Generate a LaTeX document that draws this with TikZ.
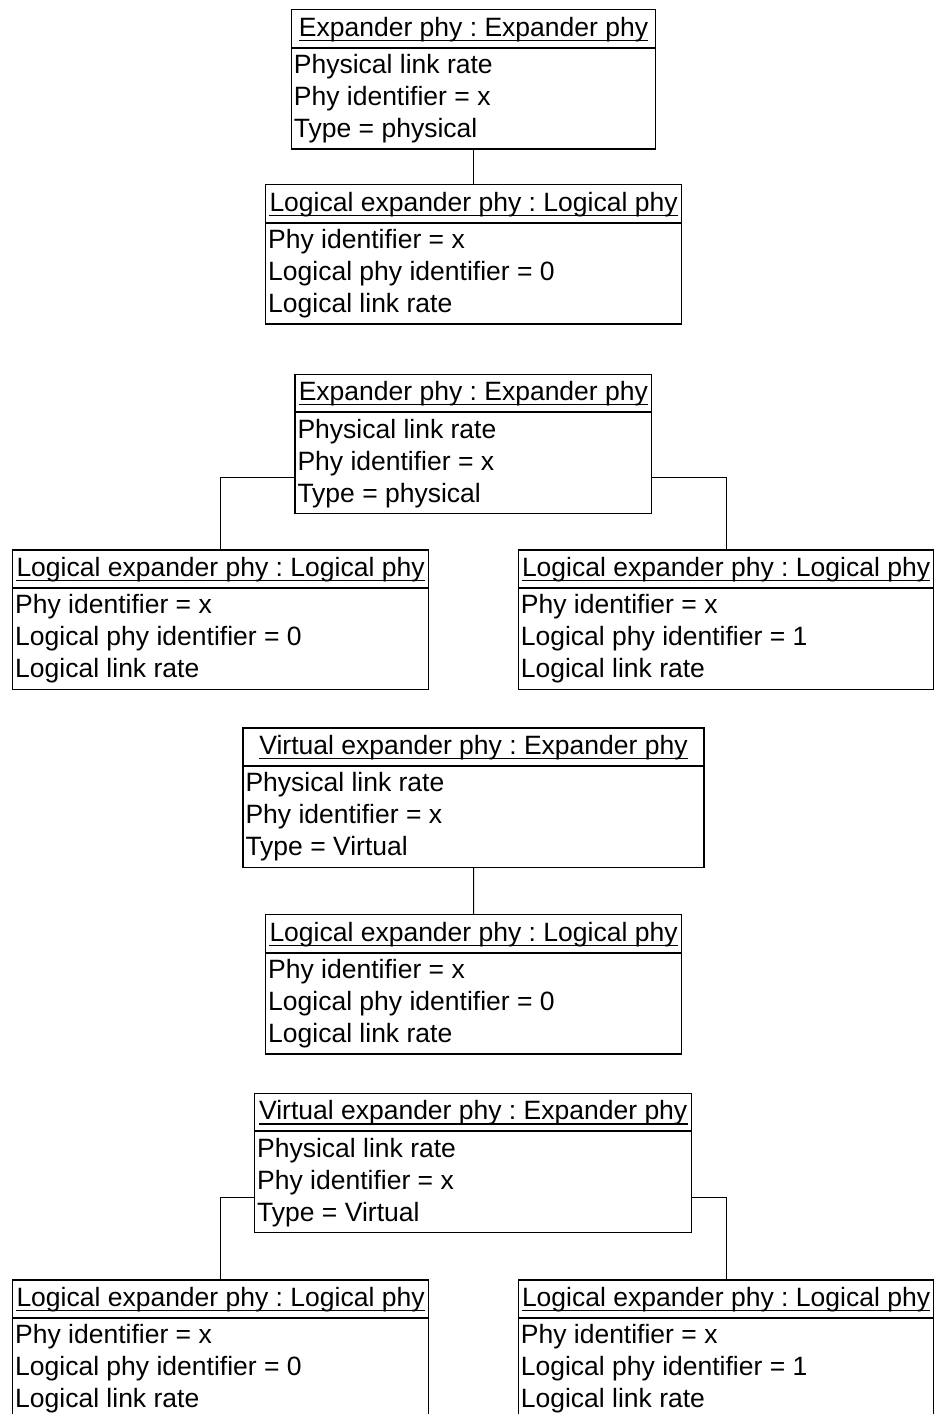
\documentclass[tikz,border=0pt]{standalone}
\usepackage{fontspec}
\setmainfont{Liberation Sans}
\usetikzlibrary{calc}
\frenchspacing
\tikzset{
  objbox/.style={draw, line width=1.4pt, rectangle, inner sep=0pt, minimum height=139.3pt, anchor=north west},
  txt/.style={inner sep=0pt, font=\fontsize{26.5}{32}\selectfont},
  sepline/.style={line width=2pt},
  uline/.style={line width=1.2pt},
  conn/.style={line width=1pt},
}
% name, x, y, width, title, line1, line2, line3
\newcommand\umlobj[8]{%
  \node[objbox, minimum width=#4pt] (#1) at (#2,#3) {};
  \node[txt, anchor=base] (#1t) at ($(#1.north)+(0,27)$) {#5};
  \draw[uline] ($(#1t.base west)+(0,4.3)$) -- ($(#1t.base east)+(0,4.3)$);
  \draw[sepline] ($(#1.north west)+(0,38.5)$) -- ($(#1.north east)+(0,38.5)$);
  \node[txt, anchor=base west] (#1a) at ($(#1.north west)+(3,64.5)$) {#6};
  \node[txt, anchor=base west] (#1b) at ($(#1.north west)+(3,96.5)$) {#7};
  \node[txt, anchor=base west] (#1c) at ($(#1.north west)+(3,128.5)$) {#8};
}
\begin{document}
\begin{tikzpicture}[x=1pt,y=-1pt]
\path[use as bounding box, clip] (0,0) rectangle (935,1414);
\fill[white] (0,0) rectangle (935,1414);

% Group 1
\umlobj{A1}{290.7}{9}{364.3}{Expander phy : Expander phy}{Physical link rate}{Phy identifier = x}{Type = physical}
\umlobj{B1}{265}{184}{415.7}{Logical expander phy : Logical phy}{Phy identifier = x}{Logical phy identifier = 0}{Logical link rate}
\draw[conn] (A1.south) -- (B1.north);

% Group 2
\umlobj{A2}{294.3}{373.5}{356.7}{Expander phy : Expander phy}{Physical link rate}{Phy identifier = x}{Type = physical}
\umlobj{L2}{12}{549.3}{415.7}{Logical expander phy : Logical phy}{Phy identifier = x}{Logical phy identifier = 0}{Logical link rate}
\umlobj{R2}{517.7}{549.3}{415.3}{Logical expander phy : Logical phy}{Phy identifier = x}{Logical phy identifier = 1}{Logical link rate}
\coordinate (A2l) at ($(A2.north west)+(0,104.2)$);
\coordinate (A2r) at ($(A2.north east)+(0,104.2)$);
\draw[conn] (A2l) -| (L2.north);
\draw[conn] (A2r) -| (R2.north);

% Group 3
\umlobj{A3}{242.3}{727.3}{461}{Virtual expander phy : Expander phy}{Physical link rate}{Phy identifier = x}{Type = Virtual}
\umlobj{B3}{265}{914}{415.7}{Logical expander phy : Logical phy}{Phy identifier = x}{Logical phy identifier = 0}{Logical link rate}
\draw[conn] (A3.south) -- (B3.north);

% Group 4
\umlobj{A4}{254}{1092.7}{437}{Virtual expander phy : Expander phy}{Physical link rate}{Phy identifier = x}{Type = Virtual}
\umlobj{L4}{12}{1279.3}{415.7}{Logical expander phy : Logical phy}{Phy identifier = x}{Logical phy identifier = 0}{Logical link rate}
\umlobj{R4}{517.7}{1279.3}{415.3}{Logical expander phy : Logical phy}{Phy identifier = x}{Logical phy identifier = 1}{Logical link rate}
\coordinate (A4l) at ($(A4.north west)+(0,104.6)$);
\coordinate (A4r) at ($(A4.north east)+(0,104.6)$);
\draw[conn] (A4l) -| (L4.north);
\draw[conn] (A4r) -| (R4.north);
\end{tikzpicture}
\end{document}
